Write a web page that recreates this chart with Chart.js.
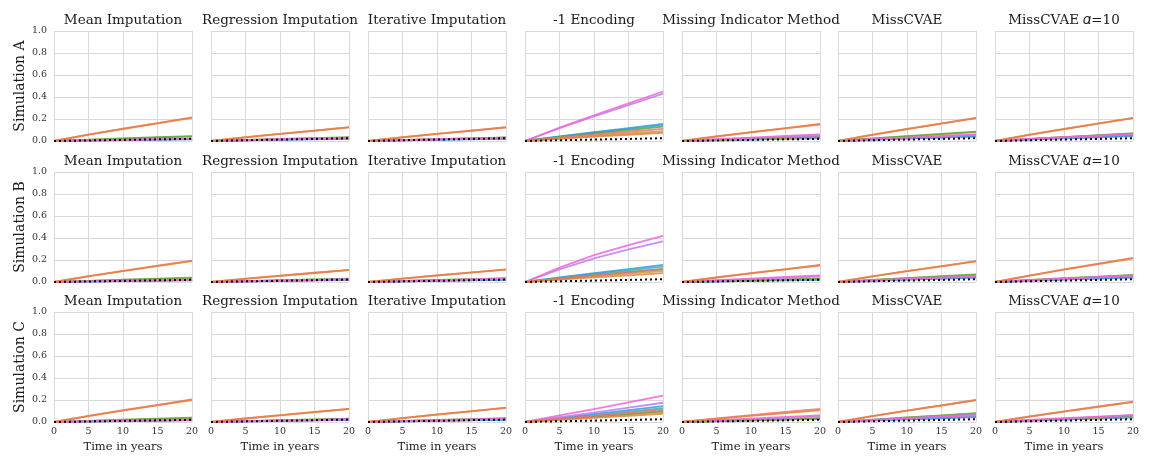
<!DOCTYPE html>
<html><head><meta charset="utf-8">
<script src="https://cdn.jsdelivr.net/npm/chart.js@4.4.1/dist/chart.umd.min.js"></script>
<style>
html,body{margin:0;padding:0;background:#fff;}
body{width:1154px;height:456px;overflow:hidden;position:relative;}
canvas{position:absolute;}
</style>
</head><body>
<script>
// ---------------- data ----------------
const years = [0, 5, 10, 15, 20];
const xTicks = [0, 5, 10, 15, 20];
const yTicks = [0.0, 0.2, 0.4, 0.6, 0.8, 1.0];
const methods = ['Mean Imputation', 'Regression Imputation', 'Iterative Imputation', '-1 Encoding',
                 'Missing Indicator Method', 'MissCVAE', 'MissCVAE \u{1D6FC}=10'];
const simulations = ['Simulation A', 'Simulation B', 'Simulation C'];
const groups = ['Group 1', 'Group 2', 'Group 3', 'Group 4', 'Group 5', 'Group 6', 'Group 7', 'Group 8', 'Baseline'];

// each row: one group's curve at years 0,5,10,15,20 (groups in the order above)
const simA_mean = [
  [0,.005,.009,.014,.018],[0,.005,.010,.015,.020],[0,.004,.008,.011,.015],[0,.005,.010,.015,.020],
  [0,.012,.023,.034,.045],[0,.011,.021,.030,.040],[0,.057,.109,.160,.210],[0,.058,.112,.163,.215],
  [0,.005,.010,.015,.020]];
const simA_reg = [
  [0,.008,.016,.023,.030],[0,.008,.015,.021,.028],[0,.005,.010,.015,.020],[0,.007,.013,.019,.025],
  [0,.009,.018,.027,.035],[0,.008,.016,.023,.030],[0,.034,.065,.095,.125],[0,.033,.064,.093,.123],
  [0,.007,.013,.019,.025]];
const simA_iter = [
  [0,.008,.016,.023,.030],[0,.008,.015,.021,.028],[0,.005,.010,.015,.020],[0,.007,.013,.019,.025],
  [0,.009,.017,.024,.032],[0,.008,.016,.023,.030],[0,.034,.065,.095,.125],[0,.033,.064,.093,.123],
  [0,.007,.013,.019,.025]];
const simA_enc = [
  [0,.122,.234,.342,.450],[0,.116,.224,.327,.430],[0,.042,.081,.118,.155],[0,.039,.075,.110,.145],
  [0,.035,.068,.099,.130],[0,.024,.047,.068,.090],[0,.020,.039,.057,.075],[0,.030,.057,.084,.110],
  [0,.007,.013,.019,.025]];
const simA_mim = [
  [0,.016,.031,.046,.060],[0,.014,.026,.038,.050],[0,.007,.013,.019,.025],[0,.008,.016,.023,.030],
  [0,.011,.021,.030,.040],[0,.009,.018,.027,.035],[0,.042,.081,.118,.155],[0,.041,.078,.114,.150],
  [0,.005,.010,.015,.020]];
const simA_cvae = [
  [0,.016,.031,.046,.060],[0,.015,.029,.042,.055],[0,.011,.021,.030,.040],[0,.012,.023,.034,.045],
  [0,.023,.044,.065,.085],[0,.022,.042,.061,.080],[0,.057,.109,.160,.210],[0,.056,.108,.158,.208],
  [0,.007,.013,.019,.025]];
const simA_cvae10 = [
  [0,.018,.034,.049,.065],[0,.016,.031,.046,.060],[0,.012,.023,.034,.045],[0,.014,.026,.038,.050],
  [0,.019,.036,.053,.070],[0,.018,.035,.052,.068],[0,.057,.109,.160,.210],[0,.056,.108,.158,.208],
  [0,.007,.013,.019,.025]];

const simB_mean = [
  [0,.005,.009,.014,.018],[0,.005,.010,.015,.020],[0,.004,.008,.011,.015],[0,.005,.010,.015,.020],
  [0,.011,.021,.030,.040],[0,.009,.018,.027,.035],[0,.051,.099,.144,.190],[0,.053,.101,.148,.195],
  [0,.005,.010,.015,.020]];
const simB_reg = [
  [0,.007,.013,.019,.025],[0,.006,.012,.018,.024],[0,.005,.009,.014,.018],[0,.005,.010,.015,.020],
  [0,.008,.016,.023,.030],[0,.008,.015,.021,.028],[0,.030,.057,.084,.110],[0,.029,.056,.082,.108],
  [0,.006,.011,.017,.022]];
const simB_iter = [
  [0,.008,.016,.023,.030],[0,.008,.015,.021,.028],[0,.005,.010,.015,.020],[0,.006,.011,.017,.022],
  [0,.009,.018,.027,.035],[0,.008,.016,.023,.030],[0,.031,.060,.087,.115],[0,.031,.059,.086,.113],
  [0,.006,.011,.017,.022]];
const simB_enc = [
  [0,.130,.244,.336,.420],[0,.115,.215,.296,.370],[0,.042,.081,.118,.155],[0,.038,.073,.106,.140],
  [0,.032,.062,.091,.120],[0,.027,.052,.076,.100],[0,.022,.042,.061,.080],[0,.031,.060,.087,.115],
  [0,.007,.013,.019,.025]];
const simB_mim = [
  [0,.016,.031,.046,.060],[0,.014,.026,.038,.050],[0,.005,.010,.015,.020],[0,.007,.013,.019,.025],
  [0,.008,.016,.023,.030],[0,.008,.015,.021,.028],[0,.042,.081,.118,.155],[0,.041,.078,.114,.150],
  [0,.005,.010,.015,.020]];
const simB_cvae = [
  [0,.015,.029,.042,.055],[0,.014,.026,.038,.050],[0,.011,.021,.030,.040],[0,.011,.022,.032,.042],
  [0,.019,.036,.053,.070],[0,.018,.034,.049,.065],[0,.051,.099,.144,.190],[0,.051,.098,.143,.188],
  [0,.007,.013,.019,.025]];
const simB_cvae10 = [
  [0,.016,.031,.046,.060],[0,.015,.029,.042,.055],[0,.011,.021,.030,.040],[0,.012,.023,.034,.045],
  [0,.018,.034,.049,.065],[0,.016,.031,.046,.060],[0,.058,.112,.163,.215],[0,.059,.114,.167,.220],
  [0,.007,.013,.019,.025]];

const simC_mean = [
  [0,.005,.009,.014,.018],[0,.005,.010,.015,.020],[0,.004,.008,.011,.015],[0,.005,.010,.015,.020],
  [0,.011,.021,.030,.040],[0,.009,.018,.027,.035],[0,.054,.104,.152,.200],[0,.055,.107,.156,.205],
  [0,.005,.010,.015,.020]];
const simC_reg = [
  [0,.007,.013,.019,.025],[0,.006,.012,.018,.024],[0,.005,.009,.014,.018],[0,.005,.010,.015,.020],
  [0,.008,.016,.023,.030],[0,.008,.015,.021,.028],[0,.032,.062,.091,.120],[0,.032,.061,.090,.118],
  [0,.006,.011,.017,.022]];
const simC_iter = [
  [0,.008,.016,.023,.030],[0,.008,.015,.021,.028],[0,.005,.010,.015,.020],[0,.006,.011,.017,.022],
  [0,.009,.018,.027,.035],[0,.008,.016,.023,.030],[0,.035,.068,.099,.130],[0,.035,.067,.097,.128],
  [0,.006,.011,.017,.022]];
const simC_enc = [
  [0,.060,.118,.178,.240],[0,.044,.086,.130,.175],[0,.036,.071,.107,.145],[0,.031,.061,.093,.125],
  [0,.025,.049,.074,.100],[0,.023,.044,.067,.090],[0,.019,.037,.056,.075],[0,.029,.056,.085,.115],
  [0,.007,.013,.019,.025]];
const simC_mim = [
  [0,.016,.031,.046,.060],[0,.014,.026,.038,.050],[0,.008,.016,.023,.030],[0,.009,.017,.024,.032],
  [0,.008,.016,.023,.030],[0,.008,.015,.021,.028],[0,.028,.055,.080,.105],[0,.032,.062,.091,.120],
  [0,.005,.010,.015,.020]];
const simC_cvae = [
  [0,.016,.031,.046,.060],[0,.019,.036,.053,.070],[0,.012,.023,.034,.045],[0,.014,.026,.038,.050],
  [0,.022,.042,.061,.080],[0,.020,.039,.057,.075],[0,.054,.104,.152,.200],[0,.053,.103,.150,.198],
  [0,.007,.013,.019,.025]];
const simC_cvae10 = [
  [0,.018,.034,.049,.065],[0,.016,.031,.046,.060],[0,.011,.021,.030,.040],[0,.012,.023,.034,.045],
  [0,.015,.029,.042,.055],[0,.014,.026,.038,.050],[0,.049,.094,.137,.180],[0,.050,.096,.141,.185],
  [0,.007,.013,.019,.025]];

const panels = [
  [simA_mean, simA_reg, simA_iter, simA_enc, simA_mim, simA_cvae, simA_cvae10],
  [simB_mean, simB_reg, simB_iter, simB_enc, simB_mim, simB_cvae, simB_cvae10],
  [simC_mean, simC_reg, simC_iter, simC_enc, simC_mim, simC_cvae, simC_cvae10]];

// ---------------- style / layout ----------------
const groupColors = ['#f462d6','#b77cf4','#2f9ee0','#3cb1c9','#58a83a','#c3a43a','#e5833a','#f0707a','#000000'];
const drawOrder   = [3, 4, 7, 8, 5, 6, 1, 2, 0];
const serif = "'DejaVu Serif', 'Liberation Serif', serif";
const plotLefts = [54, 211, 368, 525, 682, 838, 995];
const plotTops = [31, 172, 312];
const PW = 138, PH = 110, TH = 21;

panels.forEach((row, r) => {
  row.forEach((series, c) => {
    const side = c === 0 ? 54 : 24;      // symmetric margins so the title centres on the plot
    const xH = r === 2 ? 34 : 8;
    const cv = document.createElement('canvas');
    const w = side + PW + side, h = TH + PH + xH;
    cv.width = w; cv.height = h;
    cv.style.width = w + 'px'; cv.style.height = h + 'px';
    cv.style.left = (plotLefts[c] - side) + 'px';
    cv.style.top = (plotTops[r] - TH) + 'px';
    document.body.appendChild(cv);

    const datasets = series.map((vals, i) => {
      const base = i === groups.length - 1;
      return {
        label: groups[i],
        data: years.map((t, j) => ({x: t, y: vals[j]})),
        borderColor: base ? '#000000' : groupColors[i] + 'd9',
        borderWidth: base ? 2 : 1.8,
        borderDash: base ? [2, 3] : [],
        pointRadius: 0,
        tension: 0,
        fill: false,
        order: drawOrder[i],
        clip: false,
        yAxisID: 'y'
      };
    });

    new Chart(cv, {
      type: 'line',
      data: {datasets},
      options: {
        responsive: false,
        animation: false,
        devicePixelRatio: 1,
        events: [],
        layout: {padding: 0},
        plugins: {
          legend: {display: false},
          tooltip: {enabled: false},
          title: {
            display: true, text: methods[c], fullSize: true,
            color: '#1a1a1a',
            font: {family: serif, size: 13.5, weight: 'normal', lineHeight: '16px'},
            padding: {top: 2, bottom: 3}
          }
        },
        scales: {
          x: {
            type: 'linear', min: xTicks[0], max: xTicks[xTicks.length - 1],
            afterBuildTicks: s => { s.ticks = xTicks.map(v => ({value: v})); },
            ticks: {display: r === 2, color: '#333', padding: 4, maxRotation: 0,
                    font: {family: serif, size: 9.5}},
            grid: {color: '#d9d9d9', lineWidth: 1, drawTicks: false},
            border: {display: false},
            title: {display: r === 2, text: 'Time in years', color: '#1a1a1a',
                    font: {family: serif, size: 11.5}, padding: {top: 0, bottom: 2}},
            afterFit: s => { s.height = xH; s.paddingLeft = 0; s.paddingRight = 0; }
          },
          y: {
            type: 'linear', position: 'left', min: yTicks[0], max: yTicks[yTicks.length - 1],
            afterBuildTicks: s => { s.ticks = yTicks.map(v => ({value: v})); },
            ticks: {display: c === 0, color: '#333', padding: 7,
                    font: {family: serif, size: 9.5},
                    callback: v => Number(v).toFixed(1)},
            grid: {color: '#d9d9d9', lineWidth: 1, drawTicks: false},
            border: {display: false},
            title: {display: c === 0, text: simulations[r], color: '#1a1a1a',
                    font: {family: serif, size: 14}, padding: {top: 12, bottom: 0}},
            afterFit: s => { s.width = side; s.paddingTop = 0; s.paddingBottom = 0; }
          },
          yMargin: {
            type: 'linear', position: 'right', min: yTicks[0], max: yTicks[yTicks.length - 1],
            ticks: {display: false},
            grid: {display: false, drawTicks: false},
            border: {display: false},
            afterFit: s => { s.width = side; s.paddingTop = 0; s.paddingBottom = 0; }
          }
        }
      }
    });
  });
});
</script>
</body></html>
